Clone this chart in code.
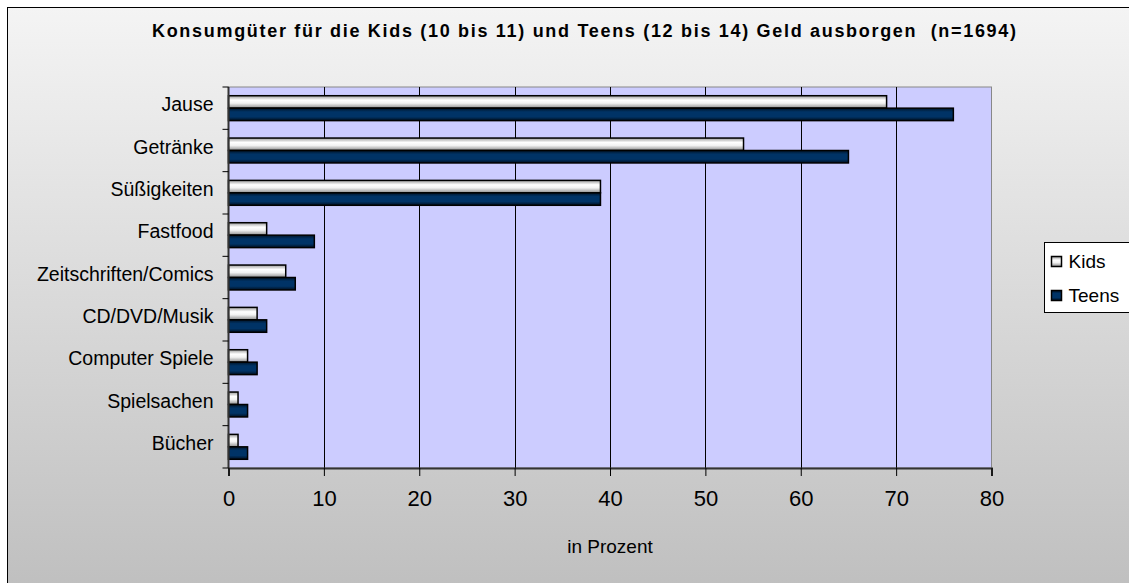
<!DOCTYPE html>
<html>
<head>
<meta charset="utf-8">
<script src="https://cdn.jsdelivr.net/npm/d3@7"></script>
<style>
  body { margin: 0; background: #fff; }
  text { font-family: Arial, 'Liberation Sans', sans-serif; }
</style>
</head>
<body>
<div id="chart"></div>
<script>
const categories = [
  'Jause',
  'Getränke',
  'Süßigkeiten',
  'Fastfood',
  'Zeitschriften/Comics',
  'CD/DVD/Musik',
  'Computer Spiele',
  'Spielsachen',
  'Bücher'
]
const series = ['Kids', 'Teens']
const kids = [69, 54, 39, 4, 6, 3, 2, 1, 1]
const teens = [76, 65, 39, 9, 7, 4, 3, 2, 2]
const xTicks = [0, 10, 20, 30, 40, 50, 60, 70, 80]

const width = 1129
const height = 583
const margin = { top: 87, left: 228.5, right: 137.5, bottom: 115 }

const svg = d3
  .select('#chart')
  .append('svg')
  .attr('width', width)
  .attr('height', height)

const defs = svg.append('defs')

const bg = defs
  .append('linearGradient')
  .attr('id', 'bg')
  .attr('x1', 0).attr('y1', 0).attr('x2', 0).attr('y2', 1)
bg.append('stop').attr('offset', '0%').attr('stop-color', '#f4f4f4')
bg.append('stop').attr('offset', '100%').attr('stop-color', '#bfbfbf')

const kidsGrad = defs
  .append('linearGradient')
  .attr('id', 'kidsGrad')
  .attr('x1', 0).attr('y1', 0).attr('x2', 0).attr('y2', 1)
kidsGrad.append('stop').attr('offset', '0%').attr('stop-color', '#9a9a9a')
kidsGrad.append('stop').attr('offset', '35%').attr('stop-color', '#ffffff')
kidsGrad.append('stop').attr('offset', '60%').attr('stop-color', '#f2f2f2')
kidsGrad.append('stop').attr('offset', '100%').attr('stop-color', '#8c8c8c')

const teensGrad = defs
  .append('linearGradient')
  .attr('id', 'teensGrad')
  .attr('x1', 0).attr('y1', 0).attr('x2', 0).attr('y2', 1)
teensGrad.append('stop').attr('offset', '0%').attr('stop-color', '#001428')
teensGrad.append('stop').attr('offset', '30%').attr('stop-color', '#003366')
teensGrad.append('stop').attr('offset', '70%').attr('stop-color', '#003366')
teensGrad.append('stop').attr('offset', '100%').attr('stop-color', '#000f1f')

// chart area
svg
  .append('rect')
  .attr('x', 7.5)
  .attr('y', 7.5)
  .attr('width', width)
  .attr('height', height)
  .attr('fill', 'url(#bg)')
  .attr('stroke', '#000')
  .attr('stroke-width', 1)

// scales
const x = d3
  .scaleLinear()
  .domain([0, 80])
  .range([margin.left, width - margin.right])

const y = d3
  .scaleBand()
  .domain(categories)
  .range([margin.top, height - margin.bottom])

const ySub = d3
  .scaleBand()
  .domain(series)
  .range([0, y.bandwidth()])
  .paddingOuter(0.7)

// plot background
svg
  .append('rect')
  .attr('x', x(0))
  .attr('y', margin.top)
  .attr('width', x(80) - x(0))
  .attr('height', height - margin.bottom - margin.top)
  .attr('fill', '#ccccff')
  .attr('stroke', '#888')
  .attr('stroke-width', 1)

// gridlines
svg
  .selectAll('.grid')
  .data(xTicks.slice(1, -1))
  .enter()
  .append('line')
  .attr('x1', d => Math.round(x(d)) + 0.5)
  .attr('x2', d => Math.round(x(d)) + 0.5)
  .attr('y1', margin.top)
  .attr('y2', height - margin.bottom)
  .attr('stroke', '#000')
  .attr('stroke-width', 1)

// bars
const rows = categories.map((c, i) => ({ name: c, Kids: kids[i], Teens: teens[i] }))

const groups = svg
  .selectAll('.row')
  .data(rows)
  .enter()
  .append('g')
  .attr('transform', d => `translate(0, ${y(d.name)})`)

groups
  .selectAll('rect')
  .data(d => series.map(s => ({ key: s, value: d[s] })))
  .enter()
  .append('rect')
  .attr('x', x(0))
  .attr('y', d => ySub(d.key))
  .attr('width', d => x(d.value) - x(0))
  .attr('height', ySub.bandwidth())
  .attr('fill', d => (d.key === 'Kids' ? 'url(#kidsGrad)' : 'url(#teensGrad)'))
  .attr('stroke', '#000')
  .attr('stroke-width', 1.5)

// axes
const xAxis = svg
  .append('g')
  .attr('transform', `translate(0, ${height - margin.bottom})`)
  .call(
    d3
      .axisBottom(x)
      .tickValues(xTicks)
      .tickSize(8)
      .tickPadding(14)
  )
xAxis.select('.domain').attr('stroke', '#333').attr('stroke-width', 2)
xAxis.selectAll('.tick line').attr('stroke', '#000')
xAxis
  .selectAll('.tick text')
  .style('font-size', '22px')
  .attr('fill', '#000')
  .style('font-family', 'Arial, "Liberation Sans", sans-serif')

const yAxis = svg
  .append('g')
  .attr('transform', `translate(${x(0)}, 0)`)
yAxis
  .append('line')
  .attr('y1', margin.top)
  .attr('y2', height - margin.bottom)
  .attr('stroke', '#333')
  .attr('stroke-width', 2)
yAxis
  .selectAll('.ytick')
  .data(categories.map(c => y(c)).concat([height - margin.bottom]))
  .enter()
  .append('line')
  .attr('x1', -6)
  .attr('x2', 0)
  .attr('y1', d => d)
  .attr('y2', d => d)
  .attr('stroke', '#000')
yAxis
  .selectAll('.ylabel')
  .data(categories)
  .enter()
  .append('text')
  .text(d => d)
  .attr('x', -15)
  .attr('y', d => y(d) + y.bandwidth() / 2 - 2)
  .attr('text-anchor', 'end')
  .attr('dominant-baseline', 'middle')
  .style('font-size', '19.5px')
  .attr('fill', '#000')

// axis title
svg
  .append('text')
  .text('in Prozent')
  .attr('x', (x(0) + x(80)) / 2)
  .attr('y', 553)
  .attr('text-anchor', 'middle')
  .style('font-size', '19px')

// title
svg
  .append('text')
  .text('Konsumgüter für die Kids (10 bis 11) und Teens (12 bis 14) Geld ausborgen  (n=1694)')
  .attr('x', 152)
  .attr('y', 37)
  .attr('textLength', 864)
  .attr('lengthAdjust', 'spacing')
  .style('white-space', 'pre')
  .style('font-size', '18px')
  .style('font-weight', 'bold')

// legend
const legend = svg.append('g').attr('transform', 'translate(1044.5, 242.5)')
legend
  .append('rect')
  .attr('width', 120)
  .attr('height', 70)
  .attr('fill', '#fff')
  .attr('stroke', '#000')
  .attr('stroke-width', 1)

const legendItems = legend
  .selectAll('.item')
  .data(series)
  .enter()
  .append('g')
  .attr('transform', (d, i) => `translate(0, ${i * 34})`)

legendItems
  .append('rect')
  .attr('x', 7)
  .attr('y', 14)
  .attr('width', 10)
  .attr('height', 10)
  .attr('fill', d => (d === 'Kids' ? 'url(#kidsGrad)' : 'url(#teensGrad)'))
  .attr('stroke', '#000')
  .attr('stroke-width', 1.5)

legendItems
  .append('text')
  .text(d => d)
  .attr('x', 24)
  .attr('y', 25)
  .style('font-size', '19px')
</script>
</body>
</html>
